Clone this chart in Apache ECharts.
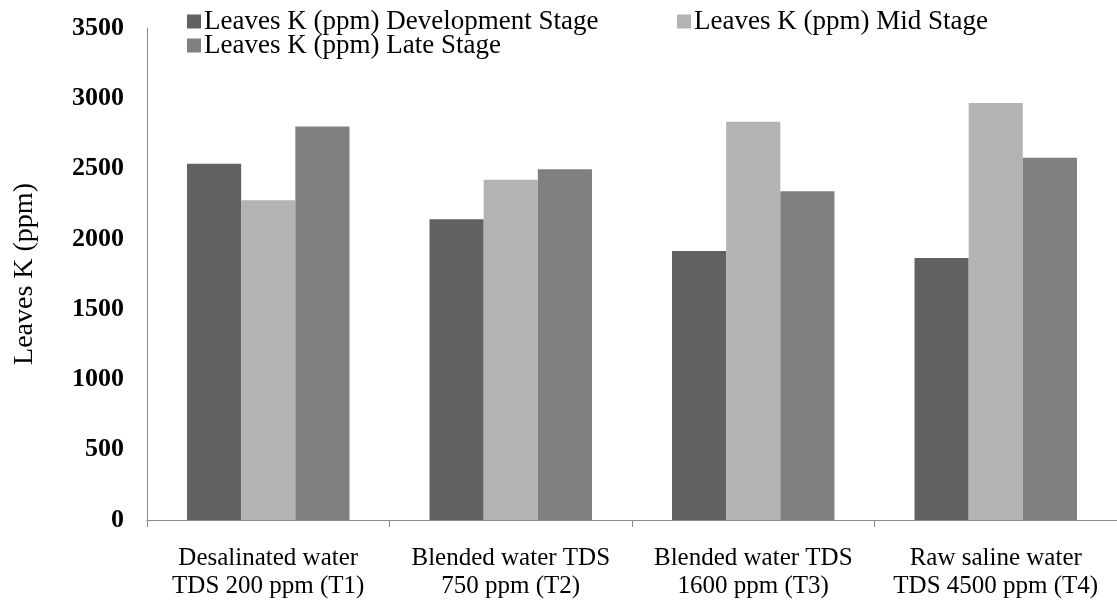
<!DOCTYPE html>
<html>
<head>
<meta charset="utf-8">
<script src="https://cdn.jsdelivr.net/npm/echarts@6/dist/echarts.min.js"></script>
<style>
  html, body { margin: 0; padding: 0; background: #ffffff; }
  #chart { width: 1117px; height: 602px; }
</style>
</head>
<body>
<div id="chart"></div>
<script>
// Treatments (water sources) on the category axis
const categories = [
  'Desalinated water\nTDS 200 ppm (T1)',
  'Blended water TDS\n750 ppm (T2)',
  'Blended water TDS\n1600 ppm (T3)',
  'Raw saline water\nTDS 4500 ppm (T4)'
];

// Leaves K (ppm) at each growth stage
const devStage = [2535, 2140, 1914, 1864];
const midStage = [2275, 2421, 2833, 2967];
const lateStage = [2800, 2495, 2338, 2577];

const seriesNames = [
  'Leaves K (ppm) Development Stage',
  'Leaves K (ppm) Mid Stage',
  'Leaves K (ppm) Late Stage'
];

const yTicks = { min: 0, max: 3500, step: 500 };

const FONT = '"Liberation Serif", "Times New Roman", serif';
const colors = ['#616161', '#b3b3b3', '#808080'];

const legendBase = {
  orient: 'horizontal',
  padding: 0,
  itemWidth: 14,
  itemHeight: 14,
  icon: 'rect',
  textStyle: { fontFamily: FONT, fontSize: 27, color: '#000000', padding: [0, 0, 0, -2] },
  selectedMode: false
};

const chart = echarts.init(document.getElementById('chart'), null, { renderer: 'canvas' });

chart.setOption({
  animation: false,
  backgroundColor: '#ffffff',
  color: colors,
  legend: [
    Object.assign({}, legendBase, { left: 187, top: 8, data: [seriesNames[0]] }),
    Object.assign({}, legendBase, { left: 677, top: 8, data: [seriesNames[1]] }),
    Object.assign({}, legendBase, { left: 187, top: 32, data: [seriesNames[2]] })
  ],
  grid: { left: 147, right: -8, top: 28, bottom: 82, containLabel: false },
  xAxis: {
    type: 'category',
    data: categories,
    boundaryGap: true,
    axisLine: { show: true, lineStyle: { color: '#8a8a8a', width: 1 } },
    axisTick: { show: true, length: 7, lineStyle: { color: '#8a8a8a' } },
    axisLabel: {
      interval: 0,
      margin: 24,
      fontFamily: FONT,
      fontSize: 25,
      lineHeight: 28,
      color: '#000000'
    },
    splitLine: { show: false }
  },
  yAxis: {
    type: 'value',
    min: yTicks.min,
    max: yTicks.max,
    interval: yTicks.step,
    name: 'Leaves K (ppm)',
    nameLocation: 'middle',
    nameRotate: 90,
    nameGap: 108,
    nameTextStyle: { fontFamily: FONT, fontSize: 28, color: '#000000' },
    axisLine: { show: true, lineStyle: { color: '#8a8a8a', width: 1 } },
    axisTick: { show: false },
    axisLabel: {
      margin: 23,
      fontFamily: FONT,
      fontSize: 26,
      fontWeight: 'bold',
      color: '#000000',
      formatter: (v) => String(v)
    },
    splitLine: { show: false }
  },
  series: [
    { name: seriesNames[0], type: 'bar', data: devStage, barGap: '0%', barCategoryGap: '33%', itemStyle: { color: colors[0] } },
    { name: seriesNames[1], type: 'bar', data: midStage, barGap: '0%', barCategoryGap: '33%', itemStyle: { color: colors[1] } },
    { name: seriesNames[2], type: 'bar', data: lateStage, barGap: '0%', barCategoryGap: '33%', itemStyle: { color: colors[2] } }
  ]
});
</script>
</body>
</html>
